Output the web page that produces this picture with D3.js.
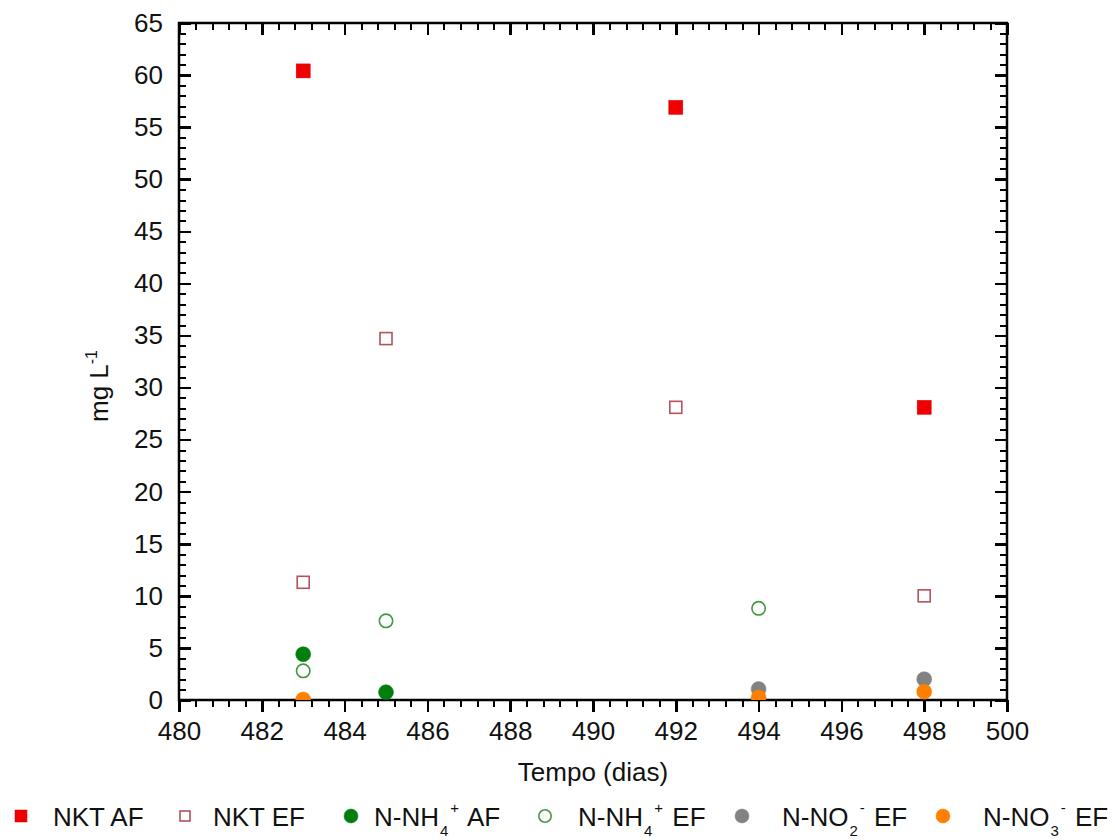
<!DOCTYPE html>
<html>
<head>
<meta charset="utf-8">
<script src="https://cdn.jsdelivr.net/npm/d3@7"></script>
<style>
  html, body { margin: 0; padding: 0; background: #fff; }
  svg { display: block; font-family: "Liberation Sans", Arial, sans-serif; }
</style>
</head>
<body>
<svg id="chart" width="1115" height="840"></svg>
<script>
// ---- data ----
const nktAF_days = [483, 492, 498];
const nktAF_vals = [60.4, 56.9, 28.1];
const nktEF_days = [483, 485, 492, 498];
const nktEF_vals = [11.3, 34.7, 28.1, 10.0];
const nh4AF_days = [483, 485];
const nh4AF_vals = [4.4, 0.75];
const nh4EF_days = [483, 485, 494];
const nh4EF_vals = [2.8, 7.6, 8.8];
const no2EF_days = [494, 498];
const no2EF_vals = [1.05, 2.0];
const no3EF_days = [483, 494, 498];
const no3EF_vals = [0.05, 0.25, 0.8];
const xTicks = [480, 482, 484, 486, 488, 490, 492, 494, 496, 498, 500];
const yTicks = [0, 5, 10, 15, 20, 25, 30, 35, 40, 45, 50, 55, 60, 65];
const xLabel = "Tempo (dias)";

const series = [
  { key: "nktEF", days: nktEF_days, vals: nktEF_vals, shape: "square", fill: "none", stroke: "#b5525a" },
  { key: "nktAF", days: nktAF_days, vals: nktAF_vals, shape: "square", fill: "#f00000", stroke: "#e00000" },
  { key: "nh4EF", days: nh4EF_days, vals: nh4EF_vals, shape: "circle", fill: "none", stroke: "#3f9a3f" },
  { key: "nh4AF", days: nh4AF_days, vals: nh4AF_vals, shape: "circle", fill: "#007f0e", stroke: "#007f0e" },
  { key: "no2EF", days: no2EF_days, vals: no2EF_vals, shape: "circle", fill: "#828282", stroke: "#828282" },
  { key: "no3EF", days: no3EF_days, vals: no3EF_vals, shape: "circle", fill: "#ff8000", stroke: "#ff8000" }
];

const svg = d3.select("#chart");
const L = 179, R = 1007, T = 23, B = 700;
const x = d3.scaleLinear().domain([480, 500]).range([L, R]);
const y = d3.scaleLinear().domain([0, 65]).range([B, T]);
const fontSize = 26;
const MAJ = 12, MIN = 7;
const WMAJ = 2.5, WMIN = 2;

svg.append("defs").append("clipPath").attr("id", "clip")
  .append("rect").attr("x", L).attr("y", T).attr("width", R - L).attr("height", B - T);

const xMinor = [];
for (let i = 0; i <= 50; i++) { if (i % 5 !== 0) xMinor.push(480 + i * 0.4); }
const yMinor = [];
for (let v = 0; v <= 65; v++) { if (v % 5 !== 0) yMinor.push(v); }

function tickAxis(axisFn, scale, vals, len, w, tx, ty) {
  const g = svg.append("g").attr("transform", `translate(${tx},${ty})`)
    .call(axisFn(scale).tickValues(vals).tickSizeInner(len).tickSizeOuter(0).tickFormat(() => ""));
  g.select(".domain").remove();
  g.selectAll(".tick text").remove();
  g.selectAll(".tick line").attr("stroke", "#000").attr("stroke-width", w).attr("shape-rendering", "crispEdges");
  return g;
}

// labels
const gx = svg.append("g").attr("transform", `translate(0,${B})`)
  .call(d3.axisBottom(x).tickValues(xTicks).tickSizeInner(MAJ).tickSizeOuter(0).tickPadding(10).tickFormat(d3.format("d")));
gx.select(".domain").remove();
gx.selectAll(".tick line").remove();
gx.selectAll(".tick text").attr("font-size", fontSize).attr("fill", "#111").attr("font-family", '"Liberation Sans", Arial, sans-serif');
const gyl = svg.append("g").attr("transform", `translate(${L},0)`)
  .call(d3.axisLeft(y).tickValues(yTicks).tickSizeInner(0).tickSizeOuter(0).tickPadding(16).tickFormat(d3.format("d")));
gyl.select(".domain").remove();
gyl.selectAll(".tick line").remove();
gyl.selectAll(".tick text").attr("font-size", fontSize).attr("fill", "#111").attr("font-family", '"Liberation Sans", Arial, sans-serif');

// ticks: bottom outward, others inward
tickAxis(d3.axisBottom, x, xTicks, MAJ, WMAJ, 0, B);
tickAxis(d3.axisBottom, x, xMinor, MIN, WMIN, 0, B);
tickAxis(d3.axisBottom, x, xTicks, MAJ, WMAJ, 0, T);
tickAxis(d3.axisBottom, x, xMinor, MIN, WMIN, 0, T);
tickAxis(d3.axisRight, y, yTicks, MAJ, WMAJ, L, 0);
tickAxis(d3.axisRight, y, yMinor, MIN, WMIN, L, 0);
tickAxis(d3.axisLeft, y, yTicks, MAJ, WMAJ, R, 0);
tickAxis(d3.axisLeft, y, yMinor, MIN, WMIN, R, 0);

// frame
svg.append("rect").attr("x", L).attr("y", T).attr("width", R - L).attr("height", B - T)
  .attr("fill", "none").attr("stroke", "#000").attr("stroke-width", 2.5);

// axis titles
svg.append("text").attr("x", (L + R) / 2).attr("y", 781).attr("text-anchor", "middle")
  .attr("font-size", fontSize).attr("fill", "#111").text(xLabel);
const yt = svg.append("text").attr("transform", `translate(108,386) rotate(-90)`).attr("text-anchor", "middle")
  .attr("font-size", fontSize).attr("fill", "#111");
yt.append("tspan").text("mg L");
yt.append("tspan").attr("font-size", 16).attr("dy", -11).text("-1");

// markers
function drawMarker(sel, s, cx, cy, size) {
  if (s.shape === "square") {
    const half = s.fill === "none" ? size / 2 - 1 : size / 2;
    sel.append("rect").attr("x", cx - half).attr("y", cy - half).attr("width", 2 * half).attr("height", 2 * half)
      .attr("fill", s.fill).attr("stroke", s.stroke).attr("stroke-width", s.fill === "none" ? 1.6 : 0.5);
  } else {
    const r = s.fill === "none" ? size / 2 - 0.8 : size / 2;
    sel.append("circle").attr("cx", cx).attr("cy", cy).attr("r", r)
      .attr("fill", s.fill).attr("stroke", s.stroke).attr("stroke-width", s.fill === "none" ? 1.6 : 0.5);
  }
}
const plot = svg.append("g").attr("clip-path", "url(#clip)");
series.forEach(s => {
  const g = plot.append("g");
  s.days.forEach((d, i) => drawMarker(g, s, x(d), y(s.vals[i]), s.shape === "square" ? 14 : 15));
});

// legend
const legendItems = [
  { s: "nktAF", mx: 21, tx: 53, parts: [["NKT AF", 0]] },
  { s: "nktEF", mx: 185, tx: 213, parts: [["NKT EF", 0]] },
  { s: "nh4AF", mx: 351, tx: 374, parts: [["N-NH", 0], ["4", 1], ["+", -1], [" AF", 0]] },
  { s: "nh4EF", mx: 545, tx: 578, parts: [["N-NH", 0], ["4", 1], ["+", -1], [" EF", 0]] },
  { s: "no2EF", mx: 742, tx: 782, parts: [["N-NO", 0], ["2", 1], ["-", -1], [" EF", 0]] },
  { s: "no3EF", mx: 943, tx: 983, parts: [["N-NO", 0], ["3", 1], ["-", -1], [" EF", 0]] }
];
const ly = 816;
legendItems.forEach(it => {
  const s = series.find(d => d.key === it.s);
  drawMarker(svg, s, it.mx, ly, s.shape === "square" ? 12 : 14);
  const t = svg.append("text").attr("x", it.tx).attr("y", ly + 9.5).attr("font-size", fontSize).attr("fill", "#111");
  let cur = 0;
  it.parts.forEach(([txt, pos]) => {
    const target = pos === 1 ? 10 : pos === -1 ? -13 : 0;
    const sp = t.append("tspan").attr("dy", target - cur).text(txt);
    if (pos !== 0) sp.attr("font-size", 15).attr("dx", pos === -1 ? 2 : 1);
    if (pos === 0 && cur !== 0) sp.attr("dx", 2);
    cur = target;
  });
});
</script>
</body>
</html>
